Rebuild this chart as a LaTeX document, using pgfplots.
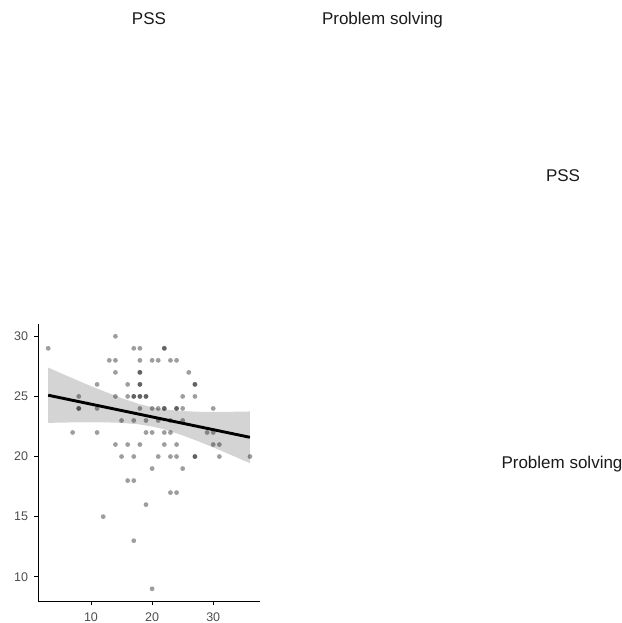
\documentclass[border=0pt]{standalone}
\usepackage{pgfplots}
\pgfplotsset{compat=1.18}
\usepackage{fontspec}
\setmainfont{Liberation Sans}
\definecolor{striptext}{HTML}{1A1A1A}
\definecolor{ticktext}{HTML}{4D4D4D}
\begin{document}
\begin{tikzpicture}[x=1pt,y=1pt]
\path[use as bounding box] (0,0) rectangle (621,623);
% facet strip labels
\tikzset{strip/.style={font=\fontsize{17}{20}\selectfont, text=striptext, anchor=base, inner sep=0pt}}
\node[strip] at (149,598.7) {PSS};
\node[strip] at (382.5,598.7) {Problem solving};
\node[strip] at (563,441.3) {PSS};
\node[strip] at (562,154) {Problem solving};
\begin{axis}[
  at={(38.1pt,21.6pt)}, anchor=south west,
  scale only axis, width=221.9pt, height=277.7pt,
  xmin=1.35, xmax=37.65, ymin=7.95, ymax=31.05,
  axis lines=left,
  axis line style={-, black, line width=0.8pt},
  xtick={10,20,30}, ytick={10,15,20,25,30},
  tick align=outside, major tick length=4pt,
  tick style={black, line width=0.8pt},
  /pgf/number format/assume math mode=true,
  ticklabel style={font=\fontsize{12.5}{14}\selectfont, text=ticktext},
  yticklabel style={xshift=-2.5pt},
  xticklabel style={yshift=-3.5pt},
  clip=false,
]
\addplot[only marks, mark=*, mark size=2.4pt, draw=none,
  mark options={draw opacity=0, fill=black, fill opacity=0.38}] table {
x y
3 29
14 30
17 29
18 29
13 28
14 28
18 28
14 27
18 27
18 27
11 26
16 26
18 26
18 26
8 25
14 25
16 25
17 25
17 25
18 25
18 25
19 25
19 25
8 24
8 24
11 24
18 24
15 23
17 23
19 23
7 22
11 22
19 22
14 21
16 21
18 21
15 20
17 20
22 29
22 29
20 28
21 28
23 28
24 28
26 27
27 26
27 26
25 25
27 25
20 24
21 24
22 24
22 24
24 24
24 24
25 24
30 24
21 23
23 23
25 23
20 22
22 22
23 22
29 22
30 22
22 21
24 21
30 21
31 21
21 20
23 20
24 20
27 20
27 20
31 20
36 20
20 19
25 19
16 18
17 18
23 17
24 17
19 16
12 15
17 13
20 9
};
% confidence band
\addplot[fill=black, fill opacity=0.17, draw=none] coordinates {
(3,27.40) (6,26.73) (9,26.07) (12,25.45) (15,24.86) (18,24.35) (20,24.10)
(22,23.92) (25,23.78) (28,23.72) (31,23.71) (34,23.73) (36,23.75)
(36,19.45) (34,19.89) (31,20.55) (28,21.18) (25,21.76) (22,22.26) (20,22.50)
(18,22.67) (15,22.80) (12,22.85) (9,22.85) (6,22.83) (3,22.80)
} -- cycle;
% regression line
\addplot[black, line width=2.9pt] coordinates {(3,25.10) (36,21.60)};
\end{axis}
\end{tikzpicture}
\end{document}
